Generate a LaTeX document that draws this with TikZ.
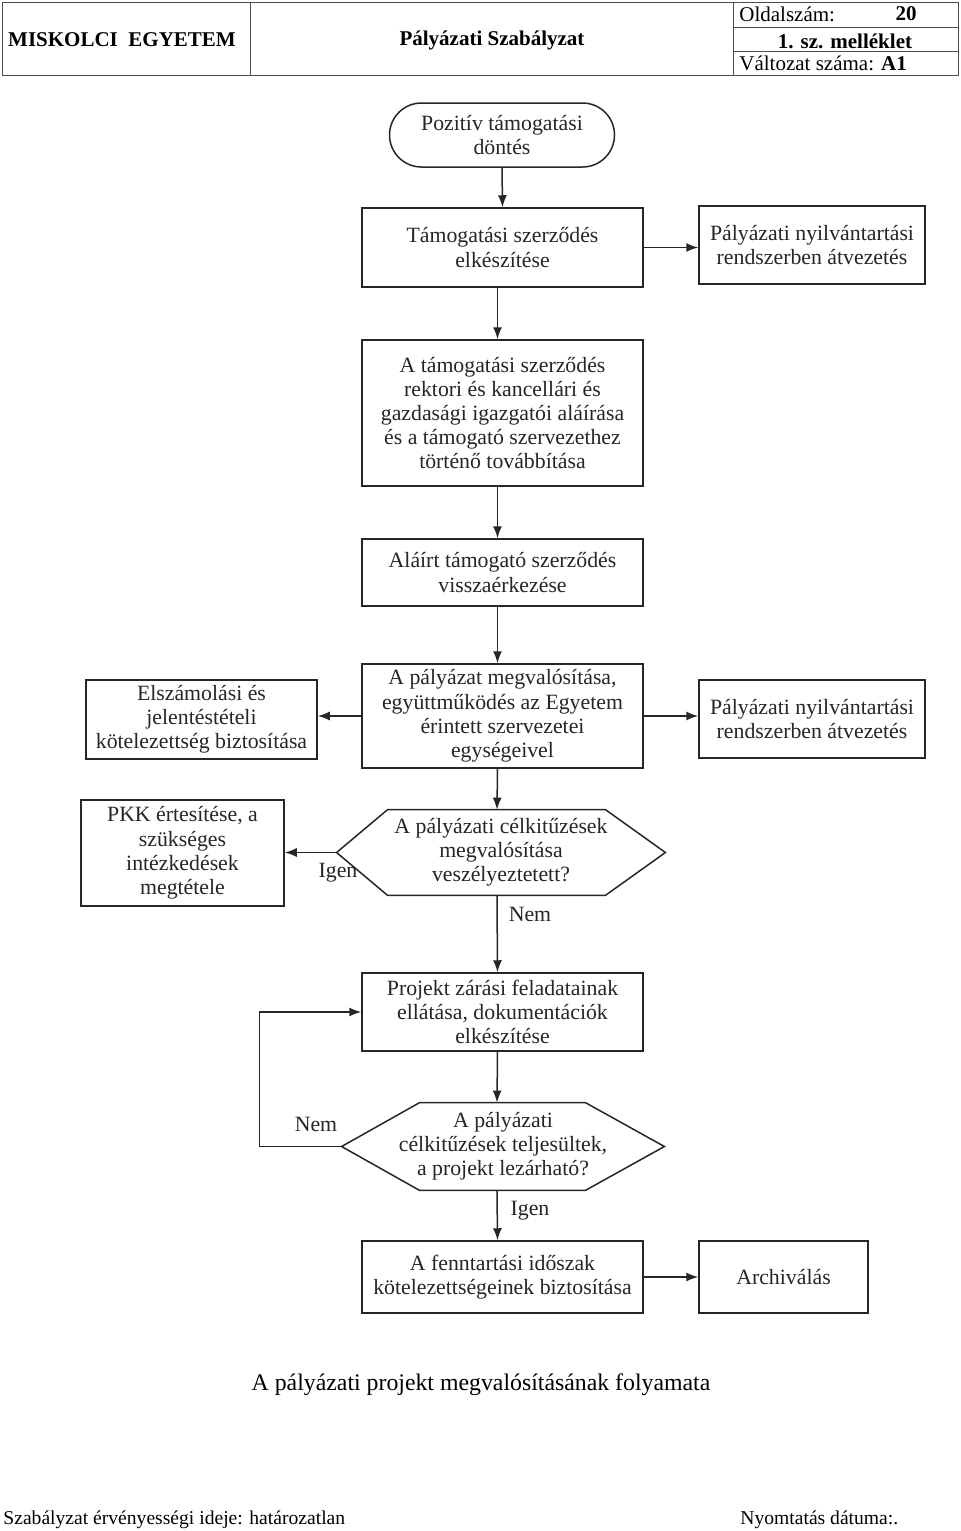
\documentclass[tikz,border=0pt]{standalone}
\usepackage{fontspec}
\setmainfont{Liberation Serif}
\usetikzlibrary{arrows.meta,calc}
\tikzset{
  ln/.style={line width=0.75pt, draw=black!85},
  box/.style={ln, rectangle, align=center, font=\fontsize{10.9}{12.1}\selectfont, text=black!85, inner sep=0pt},
  hexnode/.style={draw=none, align=center, font=\fontsize{10.9}{12.1}\selectfont, text=black!85, inner sep=0pt},
  arr/.style={ln, -{Latex[length=6pt,width=4.5pt]}},
  lbl/.style={font=\fontsize{10.9}{12}\selectfont, text=black!85, inner sep=0pt},
  hdr/.style={font=\fontsize{10.5}{12}\selectfont, inner sep=0pt},
  hline/.style={line width=0.5pt, draw=black!70},
}
\begin{document}
\begin{tikzpicture}[x=0.5pt,y=-0.5pt]
\useasboundingbox[fill=white] (0,0) rectangle (960,1531);
% header
\draw[hline] (2,2) rectangle (958,75);
\draw[hline] (250,2) -- (250,75);
\draw[hline] (733,2) -- (733,75);
\draw[hline] (733,27) -- (958,27);
\draw[hline] (733,51) -- (958,51);
\node[hdr, font=\fontsize{10.5}{12}\selectfont\bfseries] (h-me) at (122,40) {MISKOLCI\ \ EGYETEM};
\node[hdr, font=\fontsize{10.5}{12}\selectfont\bfseries] (h-psz) at (492,40) {Pályázati Szabályzat};
\node[hdr, anchor=west] (h-old) at (739,14) {Oldalszám:};
\node[hdr, font=\fontsize{10.5}{12}\selectfont\bfseries, anchor=east] (h-num) at (917,14) {20};
\node[hdr, font=\fontsize{10.5}{12}\selectfont\bfseries] (h-mel) at (845,41) {1. sz. melléklet};
\node[hdr, anchor=west] (h-valt) at (739,63) {Változat száma: \textbf{A1}};

% flowchart nodes
\node[box, rounded corners=16pt, minimum width=112.5pt, minimum height=32pt] (b1) at (502,135) {Pozitív támogatási\\döntés};
\node[box, minimum width=140.5pt, minimum height=39.5pt] (b2) at (502.5,247.5) {Támogatási szerződés\\elkészítése};
\node[box, minimum width=113pt, minimum height=39pt] (r1) at (812,245) {Pályázati nyilvántartási\\rendszerben átvezetés};
\node[box, minimum width=140.5pt, minimum height=73pt] (b3) at (502.5,413) {A támogatási szerződés\\rektori és kancellári és\\gazdasági igazgatói aláírása\\és a támogató szervezethez\\történő továbbítása};
\node[box, minimum width=140.5pt, minimum height=33.5pt] (b4) at (502.5,572.5) {Aláírt támogató szerződés\\visszaérkezése};
\node[box, minimum width=140.5pt, minimum height=52pt] (b5) at (502.5,716) {A pályázat megvalósítása,\\együttműködés az Egyetem\\érintett szervezetei\\egységeivel};
\node[box, minimum width=115.5pt, minimum height=39.5pt] (l1) at (201.5,719.5) {Elszámolási és\\jelentéstételi\\kötelezettség biztosítása};
\node[box, minimum width=113pt, minimum height=39pt] (r2) at (812,719) {Pályázati nyilvántartási\\rendszerben átvezetés};
\node[hexnode, minimum width=164pt, minimum height=42.5pt] (h1) at (501,852.5) {A pályázati célkitűzések\\megvalósítása\\veszélyeztetett?};
\draw[ln] (h1.west) -- ($(h1.north west)+(51,0)$) -- ($(h1.north east)+(-60,0)$) -- (h1.east) -- ($(h1.south east)+(-60,0)$) -- ($(h1.south west)+(51,0)$) -- cycle;
\node[box, minimum width=101.5pt, minimum height=53pt] (pkk) at (182.5,853) {PKK értesítése, a\\szükséges\\intézkedések\\megtétele};
\node[box, minimum width=140.5pt, minimum height=39pt] (b6) at (502.5,1012) {Projekt zárási feladatainak\\ellátása, dokumentációk\\elkészítése};
\node[hexnode, minimum width=161pt, minimum height=43.5pt] (h2) at (503,1146.5) {A pályázati\\célkitűzések teljesültek,\\a projekt lezárható?};
\draw[ln] (h2.west) -- ($(h2.north west)+(78,0)$) -- ($(h2.north east)+(-79,0)$) -- (h2.east) -- ($(h2.south east)+(-79,0)$) -- ($(h2.south west)+(78,0)$) -- cycle;
\node[box, minimum width=140.5pt, minimum height=36pt] (b7) at (502.5,1277) {A fenntartási időszak\\kötelezettségeinek biztosítása};
\node[box, minimum width=84.5pt, minimum height=36pt] (arch) at (783.5,1277) {Archiválás};

% connectors
\draw[arr] (b1.south) -- (b2.north);
\draw[arr] (b2.east) -- (b2.east -| r1.west);
\draw[arr] ([xshift=-2.5pt]b2.south) -- ([xshift=-2.5pt]b3.north);
\draw[arr] ([xshift=-2.5pt]b3.south) -- ([xshift=-2.5pt]b4.north);
\draw[arr] ([xshift=-2.5pt]b4.south) -- ([xshift=-2.5pt]b5.north);
\draw[arr] (b5.west) -- (b5.west -| l1.east);
\draw[arr] (b5.east) -- (b5.east -| r2.west);
\draw[arr] ([xshift=-2.5pt]b5.south) -- ([xshift=-2pt]h1.north);
\draw[arr] (h1.west) -- (h1.west -| pkk.east);
\draw[arr] ([xshift=-2pt]h1.south) -- ([xshift=-2.5pt]b6.north);
\draw[arr] ([xshift=-2.5pt]b6.south) -- ([xshift=-3pt]h2.north);
\draw[arr] (h2.west) -- ++(-82,0) |- (b6.west);
\draw[arr] ([xshift=-3pt]h2.south) -- ([xshift=-2.5pt]b7.north);
\draw[arr] (b7.east) -- (arch.west);

% labels
\node[lbl] (lig1) at (338,873) {Igen};
\node[lbl] (lnem1) at (530,914) {Nem};
\node[lbl] (lnem2) at (316,1124) {Nem};
\node[lbl] (lig2) at (530,1211) {Igen};

% caption and footer
\node[inner sep=0pt, font=\fontsize{11.9}{13}\selectfont] (cap) at (481,1385) {A pályázati projekt megvalósításának folyamata};
\node[inner sep=0pt, anchor=west, font=\fontsize{9.8}{11}\selectfont] (f1) at (3,1520) {Szabályzat érvényességi ideje: határozatlan};
\node[inner sep=0pt, anchor=west, font=\fontsize{9.8}{11}\selectfont] (f2) at (740,1520) {Nyomtatás dátuma:.};
\end{tikzpicture}
\end{document}
